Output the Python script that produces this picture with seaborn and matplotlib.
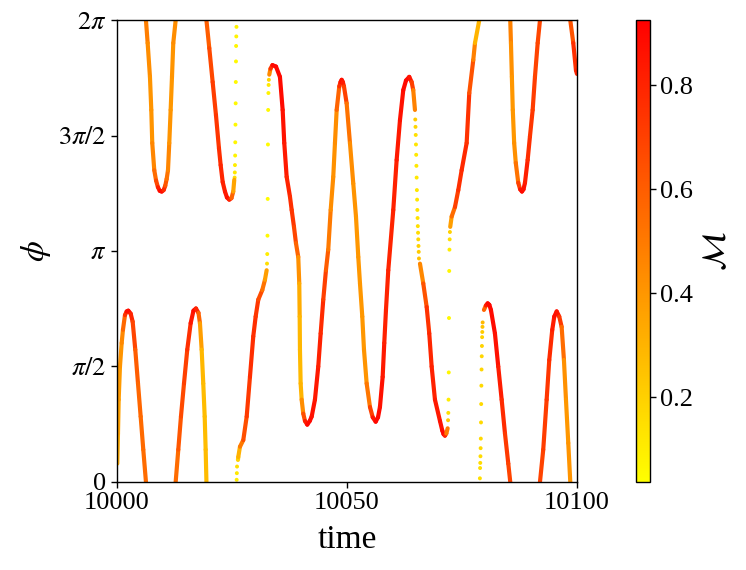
import numpy as np
import matplotlib
matplotlib.use("Agg")
import matplotlib.pyplot as plt
from matplotlib.collections import LineCollection
from matplotlib.colors import Normalize
import seaborn as sns

# colour range of the order parameter M
M_MIN, M_MAX = 0.037, 0.925

# continuous branches of the phase trajectory (one inner list per branch)
line_time = [
    [10000.07, 10000.22, 10000.37, 10000.65, 10001.02, 10001.30, 10001.74, 10002.11, 10002.46,
     10002.98, 10003.41, 10003.98, 10004.57, 10005.15, 10005.72, 10006.30],
    [10006.30, 10006.67, 10007.17, 10007.46, 10007.67, 10008.11, 10008.50, 10008.90, 10009.30,
     10009.72, 10010.15, 10010.50, 10010.80, 10011.09, 10011.37, 10011.67, 10011.96, 10012.24,
     10012.76],
    [10012.76, 10013.33, 10013.91, 10014.57, 10015.28, 10016.02, 10016.63, 10017.17, 10017.72,
     10018.04, 10018.41, 10018.76, 10019.07, 10019.28, 10019.45],
    [10019.45, 10020.07, 10020.80, 10021.52, 10022.17, 10022.54, 10022.98, 10023.48, 10023.91,
     10024.41, 10024.89, 10025.28, 10025.50],
    [10026.30, 10026.37, 10026.74, 10027.46, 10028.20, 10028.91, 10029.63, 10030.15, 10030.72,
     10031.59, 10032.17, 10032.54],
    [10033.11, 10033.37, 10033.80, 10034.57, 10035.43, 10036.02, 10036.37, 10036.89, 10037.61,
     10037.98, 10038.48, 10038.91, 10039.41, 10039.63, 10039.72, 10039.78, 10039.93, 10040.15,
     10040.50, 10040.87, 10041.37, 10041.91, 10042.33, 10043.04, 10043.76, 10044.28, 10044.85,
     10045.43, 10045.93, 10046.46, 10047.02, 10047.39, 10047.76, 10048.33, 10048.60, 10048.85,
     10049.10, 10049.35, 10049.93, 10050.65, 10051.37, 10051.96, 10052.46, 10052.83, 10053.33,
     10053.70, 10054.28, 10055.00, 10055.60, 10056.24, 10056.75, 10057.17, 10057.76, 10058.11,
     10058.48, 10058.98, 10060.07, 10060.80, 10061.52, 10062.24, 10062.83, 10063.54, 10064.06,
     10064.41, 10064.78],
    [10065.87, 10066.59, 10067.33, 10067.89, 10068.41, 10069.13, 10070.22, 10070.72, 10071.00,
     10071.30, 10071.60, 10071.89],
    [10072.45, 10072.76, 10073.48, 10074.20, 10074.93, 10076.02, 10076.59, 10077.46, 10077.83,
     10078.76],
    [10079.78, 10080.20, 10080.59, 10080.95, 10081.30, 10082.17, 10082.89, 10083.63, 10084.35,
     10085.07, 10085.50],
    [10085.50, 10085.65, 10085.85, 10086.05, 10086.35, 10086.70, 10087.24, 10087.65, 10088.04,
     10088.38, 10088.70, 10089.28, 10089.78, 10090.37, 10090.87, 10091.46, 10091.96],
    [10091.96, 10092.67, 10093.41, 10093.98, 10094.63, 10095.07, 10095.59, 10096.15, 10096.67,
     10097.17, 10097.61, 10098.11, 10098.55],
    [10098.55, 10099.20, 10099.78, 10100.00],
]
line_phi = [
    [0.25, 0.66, 1.12, 1.57, 1.89, 2.07, 2.27, 2.32, 2.33, 2.29, 2.18, 1.80, 1.34, 0.89, 0.44,
     0.00],
    [6.28, 5.97, 5.51, 5.06, 4.61, 4.24, 4.10, 4.01, 3.96, 3.95, 3.97, 4.03, 4.12, 4.24, 4.61,
     5.06, 5.51, 5.97, 6.28],
    [0.00, 0.44, 0.89, 1.34, 1.80, 2.16, 2.33, 2.36, 2.30, 2.16, 1.80, 1.34, 0.89, 0.44, 0.00],
    [6.28, 5.90, 5.44, 4.99, 4.54, 4.31, 4.08, 3.95, 3.87, 3.84, 3.86, 3.95, 4.11],
    [0.30, 0.34, 0.48, 0.57, 0.89, 1.43, 1.98, 2.25, 2.48, 2.61, 2.75, 2.88],
    [5.54, 5.62, 5.67, 5.65, 5.51, 5.06, 4.61, 4.15, 3.88, 3.70, 3.47, 3.25, 3.06, 2.70, 2.25,
     1.80, 1.34, 1.12, 0.93, 0.83, 0.78, 0.83, 0.89, 1.12, 1.57, 2.02, 2.48, 2.88, 3.16, 3.70,
     4.15, 4.61, 5.06, 5.38, 5.44, 5.47, 5.44, 5.38, 5.15, 4.61, 4.06, 3.61, 3.06, 2.70, 2.25,
     1.80, 1.34, 1.02, 0.88, 0.82, 0.88, 1.02, 1.43, 1.89, 2.34, 2.88, 3.70, 4.38, 4.92, 5.33,
     5.46, 5.51, 5.44, 5.33, 5.06],
    [2.97, 2.70, 2.38, 2.02, 1.57, 1.12, 0.83, 0.70, 0.65, 0.63, 0.66, 0.73],
    [3.47, 3.61, 3.74, 3.97, 4.24, 4.61, 5.29, 5.74, 5.97, 6.28],
    [2.34, 2.40, 2.43, 2.41, 2.34, 2.02, 1.57, 1.12, 0.66, 0.25, 0.00],
    [6.28, 5.97, 5.51, 5.06, 4.61, 4.34, 4.07, 3.98, 3.95, 3.98, 4.07, 4.38, 4.70, 5.06, 5.51,
     5.97, 6.28],
    [0.00, 0.44, 1.12, 1.66, 2.07, 2.25, 2.32, 2.25, 2.11, 1.66, 1.12, 0.53, 0.00],
    [6.28, 5.97, 5.60, 5.55],
]
line_m = [
    [0.30, 0.35, 0.38, 0.40, 0.42, 0.48, 0.65, 0.85, 0.90, 0.85, 0.75, 0.62, 0.58, 0.56, 0.55,
     0.55],
    [0.52, 0.45, 0.42, 0.40, 0.42, 0.50, 0.60, 0.75, 0.88, 0.90, 0.85, 0.70, 0.55, 0.50, 0.42,
     0.40, 0.40, 0.42, 0.45],
    [0.50, 0.60, 0.65, 0.68, 0.72, 0.80, 0.88, 0.90, 0.70, 0.45, 0.30, 0.27, 0.27, 0.27, 0.28],
    [0.55, 0.65, 0.70, 0.72, 0.75, 0.78, 0.80, 0.82, 0.85, 0.90, 0.70, 0.45, 0.25],
    [0.18, 0.22, 0.40, 0.60, 0.70, 0.75, 0.78, 0.75, 0.72, 0.60, 0.45, 0.30],
    [0.30, 0.60, 0.90, 0.90, 0.90, 0.88, 0.85, 0.82, 0.78, 0.75, 0.72, 0.65, 0.50, 0.35, 0.30,
     0.28, 0.28, 0.32, 0.55, 0.75, 0.90, 0.90, 0.88, 0.85, 0.82, 0.80, 0.75, 0.65, 0.55, 0.45,
     0.42, 0.42, 0.45, 0.70, 0.82, 0.90, 0.85, 0.80, 0.60, 0.45, 0.42, 0.40, 0.40, 0.40, 0.40,
     0.40, 0.42, 0.60, 0.80, 0.90, 0.90, 0.88, 0.85, 0.82, 0.80, 0.80, 0.80, 0.82, 0.85, 0.88,
     0.90, 0.90, 0.80, 0.60, 0.35],
    [0.35, 0.55, 0.72, 0.78, 0.80, 0.82, 0.85, 0.88, 0.90, 0.90, 0.70, 0.30],
    [0.30, 0.45, 0.65, 0.75, 0.78, 0.78, 0.72, 0.55, 0.40, 0.20],
    [0.40, 0.75, 0.90, 0.90, 0.90, 0.88, 0.85, 0.80, 0.75, 0.70, 0.68],
    [0.50, 0.45, 0.40, 0.40, 0.40, 0.45, 0.60, 0.80, 0.90, 0.88, 0.85, 0.78, 0.75, 0.72, 0.70,
     0.68, 0.68],
    [0.68, 0.70, 0.72, 0.75, 0.80, 0.85, 0.90, 0.80, 0.65, 0.45, 0.40, 0.40, 0.42],
    [0.55, 0.72, 0.80, 0.80],
]

# isolated samples where the phase slips fast (low M)
dot_time = [10025.58, 10025.62, 10025.65, 10025.69, 10025.72, 10025.76, 10025.80, 10025.83,
            10025.87, 10025.90, 10025.94, 10025.98, 10026.02, 10026.06, 10026.10,
            10032.62, 10032.67, 10032.72, 10032.77, 10032.82, 10032.87, 10032.92, 10032.97,
            10033.02,
            10064.85, 10064.90, 10064.95, 10065.00, 10065.05, 10065.10, 10065.15, 10065.20,
            10065.25, 10065.30, 10065.35, 10065.40, 10065.45, 10065.50, 10065.55, 10065.60,
            10065.65,
            10071.98, 10072.03, 10072.08, 10072.13, 10072.18, 10072.23, 10072.28, 10072.33,
            10072.38,
            10078.90, 10078.94, 10078.98, 10079.02, 10079.06, 10079.10, 10079.14, 10079.18,
            10079.22, 10079.26, 10079.30, 10079.34, 10079.38, 10079.42, 10079.46, 10079.50]
dot_phi = [4.14, 4.21, 4.31, 4.44, 4.62, 4.86, 5.15, 5.44, 5.72, 5.93, 6.06, 6.19, 0.03, 0.12,
           0.21,
           2.97, 3.10, 3.35, 3.85, 4.59, 5.06, 5.29, 5.40, 5.47,
           4.93, 4.83, 4.72, 4.59, 4.45, 4.30, 4.14, 3.97, 3.84, 3.70, 3.59, 3.48, 3.39, 3.30,
           3.21, 3.13, 3.04,
           0.84, 0.94, 1.12, 1.49, 2.23, 2.87, 3.16, 3.30, 3.40,
           0.05, 0.19, 0.26, 0.35, 0.46, 0.59, 0.81, 1.06, 1.31, 1.53, 1.71, 1.85, 1.97, 2.04,
           2.11, 2.17]
dot_m = [0.15, 0.12, 0.10, 0.08, 0.07, 0.06, 0.06, 0.06, 0.06, 0.07, 0.08, 0.08, 0.10, 0.12,
         0.15,
         0.15, 0.10, 0.06, 0.05, 0.05, 0.06, 0.08, 0.12, 0.18,
         0.22, 0.18, 0.15, 0.13, 0.12, 0.12, 0.12, 0.12, 0.12, 0.13, 0.14, 0.15, 0.16, 0.18,
         0.20, 0.22, 0.25,
         0.22, 0.15, 0.10, 0.07, 0.06, 0.07, 0.10, 0.15, 0.20,
         0.15, 0.15, 0.16, 0.16, 0.17, 0.17, 0.17, 0.17, 0.17, 0.18, 0.18, 0.19, 0.20, 0.22,
         0.25, 0.28]

y_ticks = [0, np.pi / 2, np.pi, 3 * np.pi / 2, 2 * np.pi]
y_tick_labels = ["0", r"$\pi/2$", r"$\pi$", r"$3\pi/2$", r"$2\pi$"]
x_ticks = [10000, 10050, 10100]
cbar_ticks = [0.2, 0.4, 0.6, 0.8]

sns.set_style("ticks", {"axes.edgecolor": "black", "xtick.color": "black",
                        "ytick.color": "black", "text.color": "black",
                        "axes.labelcolor": "black"})
plt.rcParams["font.family"] = ["Liberation Serif", "DejaVu Serif"]
plt.rcParams["mathtext.fontset"] = "stix"

fig = plt.figure(figsize=(7.46, 5.70), dpi=100)
ax = fig.add_axes([0.1568, 0.1544, 0.6166, 0.8105])
cax = fig.add_axes([0.8525, 0.1544, 0.0188, 0.8105])
norm = Normalize(M_MIN, M_MAX)

# build coloured segments branch by branch
segments, seg_m = [], []
for t, p, m in zip(line_time, line_phi, line_m):
    pts = np.column_stack([t, p])
    segments.extend(np.stack([pts[:-1], pts[1:]], axis=1))
    m = np.asarray(m)
    seg_m.extend((m[:-1] + m[1:]) / 2)
lc = LineCollection(segments, cmap="autumn_r", norm=norm, linewidths=3.0,
                    capstyle="round", joinstyle="round")
lc.set_array(np.asarray(seg_m))
ax.add_collection(lc)

sns.scatterplot(x=dot_time, y=dot_phi, hue=dot_m, palette="autumn_r", hue_norm=norm,
                s=8, linewidth=0, legend=False, ax=ax)

ax.set_xlim(10000, 10100)
ax.set_ylim(0, 2 * np.pi)
ax.set_xticks(x_ticks)
ax.set_yticks(y_ticks)
ax.set_yticklabels(y_tick_labels)
ax.tick_params(labelsize=19, length=4, width=1)
for sp in ax.spines.values():
    sp.set_linewidth(1.0)
ax.set_xlabel("time", fontsize=24, labelpad=7)
ax.set_ylabel(r"$\phi$", fontsize=24)

cb = fig.colorbar(lc, cax=cax)
cb.set_ticks(cbar_ticks)
cb.ax.tick_params(labelsize=19, length=4, width=1)
cb.outline.set_linewidth(1.0)
cb.set_label(r"$\mathcal{M}$", fontsize=24, labelpad=6)

fig.savefig("out.png", dpi=100)
